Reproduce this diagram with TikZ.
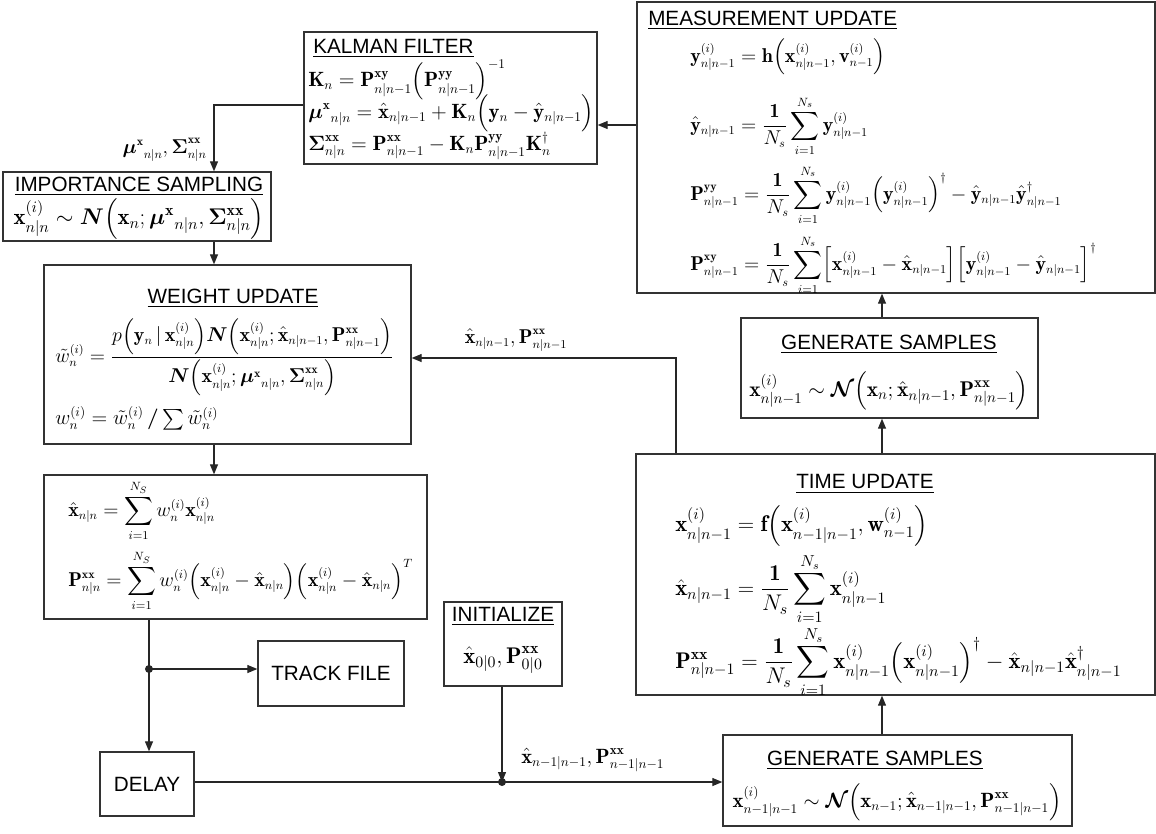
\RequirePackage{fix-cm}
\documentclass[tikz,border=0pt]{standalone}
\usepackage{amsmath,amssymb}
\usepackage{fontspec}
\setsansfont{Liberation Sans}
\usetikzlibrary{arrows.meta,fit,calc}
\DeclareMathSizes{15}{15}{9}{7}
\DeclareMathSizes{15.5}{15.5}{10}{7.5}
\def\Vx{\mathbf{x}}
\def\Vy{\mathbf{y}}
\def\VP{\mathbf{P}}
\def\VK{\mathbf{K}}
\def\HVx{\hat{\mathbf{x}}}
\def\HVy{\hat{\mathbf{y}}}
\def\Bmu{\boldsymbol{\mu}}
\def\BSig{\boldsymbol{\Sigma}}
\def\NN{\boldsymbol{N}}
\def\CN{\boldsymbol{\mathcal{N}}}
\def\XX{\mathbf{xx}}
\def\Lp{\Bigl(}
\def\Rp{\Bigr)}
\begin{document}
\begin{tikzpicture}[x=0.75pt,y=-0.75pt,
  box/.style={draw=black!80, line width=1pt, inner sep=0pt, rectangle},
  ttl/.style={inner sep=0pt, font=\sffamily\fontsize{15.5}{18}\selectfont},
  eq/.style={inner sep=0pt, anchor=west, font=\fontsize{17}{20}\selectfont},
  eqc/.style={inner sep=0pt, font=\fontsize{17}{20}\selectfont},
  sm/.style={font=\fontsize{15}{18}\selectfont},
  md/.style={font=\fontsize{15.5}{18}\selectfont},
  mg/.style={font=\fontsize{16}{19}\selectfont},
  arr/.style={line width=0.9pt, draw=black!85, -{Triangle[length=7.5pt,width=6pt]}},
  ln/.style={line width=0.9pt, draw=black!85}]
\useasboundingbox (0,0) rectangle (1156,833);

% ---------- boxes ----------
\node[box, fit={(304,32) (597,164)}] (kf) {};
\node[box, fit={(637,2) (1155,293)}] (mu) {};
\node[box, fit={(3,172) (271,241)}] (is) {};
\node[box, fit={(44,265) (411,444)}] (wu) {};
\node[box, fit={(44,475) (427,619)}] (est) {};
\node[box, fit={(741,318) (1038,418)}] (gs1) {};
\node[box, fit={(636,454) (1155,695)}] (tu) {};
\node[box, fit={(723,735) (1072,826)}] (gs2) {};
\node[box, fit={(444,602) (562,686)}] (init) {};
\node[box, fit={(258,641) (404,706)}] (track) {};
\node[box, fit={(100,752) (194,816)}] (delay) {};

% ---------- Kalman filter ----------
\node[ttl, anchor=west] (kft) at (313,48) {\underline{KALMAN FILTER}};
\node[eq, md] (kf1) at (308,80) {$\displaystyle \VK_n = \VP^{\mathbf{xy}}_{n|n-1}\Lp\VP^{\mathbf{yy}}_{n|n-1}\Rp^{-1}$};
\node[eq, md] (kf2) at (308,113) {$\displaystyle {\Bmu^{\mathbf{x}}}_{n|n} = \HVx_{n|n-1} + \VK_n\Lp\Vy_n - \HVy_{n|n-1}\Rp$};
\node[eq, md] (kf3) at (308,146) {$\displaystyle \BSig^{\XX}_{n|n} = \VP^{\XX}_{n|n-1} - \VK_n\VP^{\mathbf{yy}}_{n|n-1}\VK_n^{\dagger}$};

% ---------- Measurement update ----------
\node[ttl, anchor=west] (mut) at (648,20) {\underline{MEASUREMENT UPDATE}};
\node[eq, sm] (mu1) at (690,57) {$\displaystyle \Vy^{(i)}_{n|n-1} = \mathbf{h}\Lp\Vx^{(i)}_{n|n-1},\mathbf{v}^{(i)}_{n-1}\Rp$};
\node[eq, sm] (mu2) at (690,126) {$\displaystyle \HVy_{n|n-1} = \frac{\mathbf{1}}{N_s}\sum_{i=1}^{N_s}\Vy^{(i)}_{n|n-1}$};
\node[eq, sm] (mu3) at (690,195) {$\displaystyle \VP^{\mathbf{yy}}_{n|n-1} = \frac{\mathbf{1}}{N_s}\sum_{i=1}^{N_s}\Vy^{(i)}_{n|n-1}\Lp\Vy^{(i)}_{n|n-1}\Rp^{\dagger} - \HVy_{n|n-1}\HVy^{\dagger}_{n|n-1}$};
\node[eq, sm] (mu4) at (690,265) {$\displaystyle \VP^{\mathbf{xy}}_{n|n-1} = \frac{\mathbf{1}}{N_s}\sum_{i=1}^{N_s}\Bigl[\Vx^{(i)}_{n|n-1}-\HVx_{n|n-1}\Bigr]\Bigl[\Vy^{(i)}_{n|n-1}-\HVy_{n|n-1}\Bigr]^{\dagger}$};

% ---------- Importance sampling ----------
\node[ttl] (ist) at (139,186) {\underline{IMPORTANCE SAMPLING}};
\node[eqc] (is1) at (139,219) {$\displaystyle \Vx^{(i)}_{n|n}\sim\NN\Lp\Vx_n;{\Bmu^{\mathbf{x}}}_{n|n},\BSig^{\XX}_{n|n}\Rp$};

% ---------- Weight update ----------
\node[ttl] (wut) at (233,298) {\underline{WEIGHT UPDATE}};
\node[eq, sm] (wu1) at (55,357) {$\displaystyle \tilde{w}^{(i)}_n = \frac{p\Lp\Vy_n\,|\,\Vx^{(i)}_{n|n}\Rp\NN\Lp\Vx^{(i)}_{n|n};\HVx_{n|n-1},\VP^{\XX}_{n|n-1}\Rp}{\NN\Lp\Vx^{(i)}_{n|n};{\Bmu^{\mathbf{x}}}_{n|n},\BSig^{\XX}_{n|n}\Rp}$};
\node[eq, md] (wu2) at (55,418) {$\displaystyle w^{(i)}_n = \tilde{w}^{(i)}_n\,\boldsymbol{/}\textstyle\sum\tilde{w}^{(i)}_n$};

% ---------- Estimate ----------
\node[eq, sm] (es1) at (68,511) {$\displaystyle \HVx_{n|n} = \sum_{i=1}^{N_S} w^{(i)}_n\Vx^{(i)}_{n|n}$};
\node[eq, sm] (es2) at (68,581) {$\displaystyle \VP^{\XX}_{n|n} = \sum_{i=1}^{N_S} w^{(i)}_n\Lp\Vx^{(i)}_{n|n}-\HVx_{n|n}\Rp\Lp\Vx^{(i)}_{n|n}-\HVx_{n|n}\Rp^{T}$};

% ---------- Generate samples (upper) ----------
\node[ttl] (g1t) at (889,344) {\underline{GENERATE SAMPLES}};
\node[eqc, mg] (g1e) at (889,391) {$\displaystyle \Vx^{(i)}_{n|n-1}\sim\CN\Lp\Vx_n;\HVx_{n|n-1},\VP^{\XX}_{n|n-1}\Rp$};

% ---------- Time update ----------
\node[ttl] (tut) at (865,484) {\underline{TIME UPDATE}};
\node[eq] (tu1) at (675,526) {$\displaystyle \Vx^{(i)}_{n|n-1} = \mathbf{f}\Lp\Vx^{(i)}_{n-1|n-1},\mathbf{w}^{(i)}_{n-1}\Rp$};
\node[eq] (tu2) at (675,589) {$\displaystyle \HVx_{n|n-1} = \frac{\mathbf{1}}{N_s}\sum_{i=1}^{N_s}\Vx^{(i)}_{n|n-1}$};
\node[eq] (tu3) at (675,662) {$\displaystyle \VP^{\XX}_{n|n-1} = \frac{\mathbf{1}}{N_s}\sum_{i=1}^{N_s}\Vx^{(i)}_{n|n-1}\Lp\Vx^{(i)}_{n|n-1}\Rp^{\dagger} - \HVx_{n|n-1}\HVx^{\dagger}_{n|n-1}$};

% ---------- Generate samples (lower) ----------
\node[ttl] (g2t) at (875,760) {\underline{GENERATE SAMPLES}};
\node[eqc, md] (g2e) at (897,802) {$\displaystyle \Vx^{(i)}_{n-1|n-1}\sim\CN\Lp\Vx_{n-1};\HVx_{n-1|n-1},\VP^{\XX}_{n-1|n-1}\Rp$};

% ---------- Initialize, track file, delay ----------
\node[ttl] (int) at (503,616) {\underline{INITIALIZE}};
\node[eqc] (ine) at (503,660) {$\displaystyle \HVx_{0|0},\VP^{\XX}_{0|0}$};
\node[ttl] (trt) at (track.center) {TRACK FILE};
\node[ttl] (det) at (delay.center) {DELAY};

% ---------- labels ----------
\node[eqc, sm, anchor=east] (lab1) at (207,150) {$\displaystyle {\Bmu^{\mathbf{x}}}_{n|n},\BSig^{\XX}_{n|n}$};
\node[eqc, sm] (lab2) at (516,340) {$\displaystyle \HVx_{n|n-1},\VP^{\XX}_{n|n-1}$};
\node[eqc, md, anchor=west] (lab3) at (521,760) {$\displaystyle \HVx_{n-1|n-1},\VP^{\XX}_{n-1|n-1}$};

% ---------- connectors ----------
\coordinate (kfmu) at (617,125);
\draw[arr] (mu.west |- kfmu) -- (kf.east |- kfmu);
\coordinate (kfis) at (214,105);
\draw[arr] (kf.west |- kfis) -| (is.north -| kfis);
\draw[arr] (is.south -| kfis) -- (wu.north -| kfis);
\draw[arr] (wu.south -| kfis) -- (est.north -| kfis);
\coordinate (split) at (149,669);
\draw[ln] (est.south -| split) -- (split);
\draw[arr] (split) -- (delay.north -| split);
\draw[arr] (split) -- (track.west |- split);
\fill[black!85] (split) circle[radius=3pt];
\coordinate (junc) at (502,782);
\draw[arr] (delay.east |- junc) -- (gs2.west |- junc);
\draw[arr] (init.south -| junc) -- (junc);
\fill[black!85] (junc) circle[radius=3pt];
\coordinate (vx) at (882,600);
\draw[arr] (gs2.north -| vx) -- (tu.south -| vx);
\draw[arr] (tu.north -| vx) -- (gs1.south -| vx);
\draw[arr] (gs1.north -| vx) -- (mu.south -| vx);
\coordinate (fb) at (676,358);
\draw[arr] (tu.north -| fb) -- (fb) -- (wu.east |- fb);
\end{tikzpicture}
\end{document}
